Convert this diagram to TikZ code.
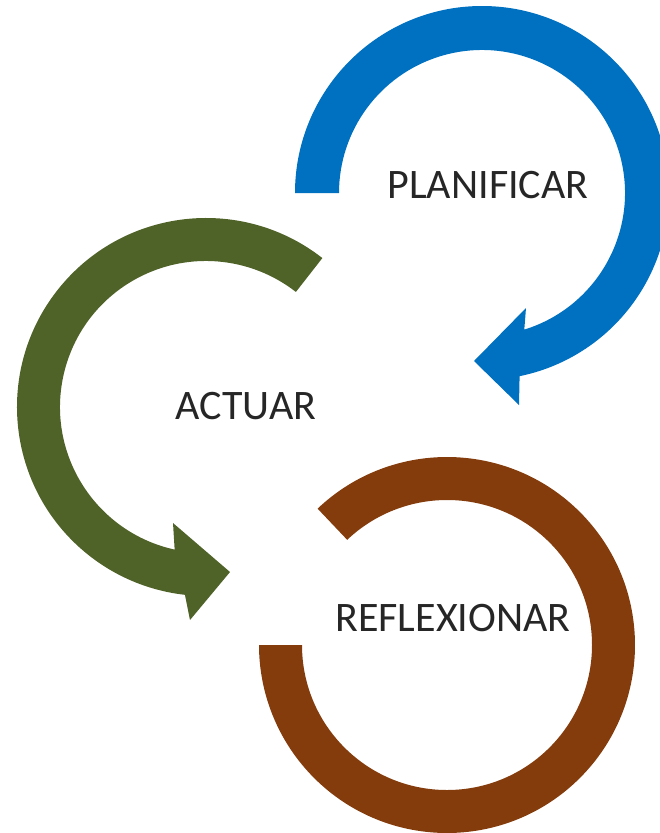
\documentclass[tikz,border=0pt]{standalone}
\usepackage{fontspec}
\setmainfont{Carlito}
\definecolor{bluec}{HTML}{0070C0}
\definecolor{greenc}{HTML}{4F6228}
\definecolor{brownc}{HTML}{843C0C}
\definecolor{txtc}{HTML}{262626}
\begin{document}
\begin{tikzpicture}[x=1pt,y=1pt,
  lbl/.style={inner sep=0pt, text=txtc, font=\fontsize{42}{50}\selectfont}]
\useasboundingbox (0,0) rectangle (659,-833);
% blue circular arrow
\fill[bluec] ([shift={(482,-193)}]180:187) arc[start angle=180, end angle=-78.4, radius=187]
  -- (519,-405) -- (474,-361) -- (526,-308)
  -- ([shift={(482,-193)}]-72.8:143) arc[start angle=-72.8, end angle=180, radius=143] -- cycle;
% green circular arrow
\fill[greenc] ([shift={(206,-407)}]52:189) arc[start angle=52, end angle=263.6, radius=189]
  -- (190,-620) -- (230,-572) -- (173,-523)
  -- ([shift={(206,-407)}]257.6:146) arc[start angle=257.6, end angle=52, radius=146] -- cycle;
% brown arc
\fill[brownc] ([shift={(447,-645)}]133.5:188) arc[start angle=133.5, end angle=-180, radius=188]
  -- ([shift={(447,-645)}]180:145) arc[start angle=-180, end angle=133.5, radius=145] -- cycle;
\node[lbl] (plan) at (488,-185) {PLANIFICAR};
\node[lbl] (act) at (246,-406) {ACTUAR};
\node[lbl] (refl) at (453,-618) {REFLEXIONAR};
\end{tikzpicture}
\end{document}
